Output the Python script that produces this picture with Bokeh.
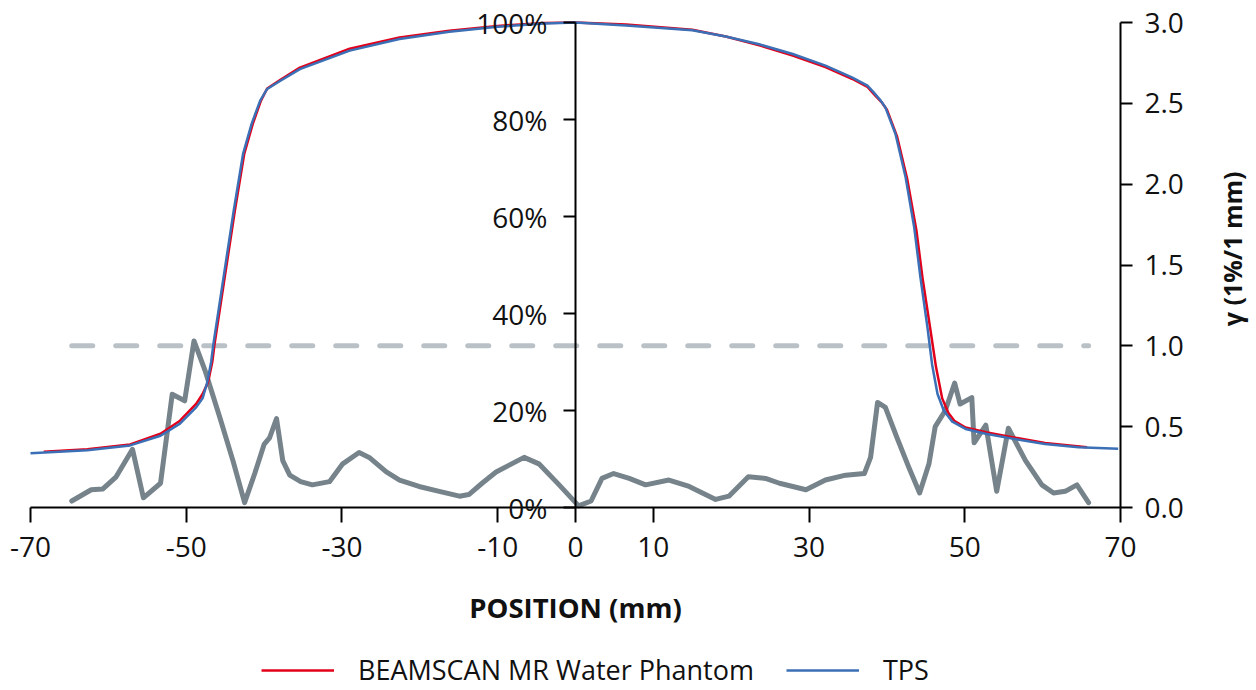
import numpy as np
from bokeh.plotting import figure
from bokeh.models import (Range1d, LinearAxis, FixedTicker, Legend, LegendItem, Label)
from bokeh.embed import file_html
from bokeh.resources import INLINE

# ---------------- data ----------------
tps_x = [-70, -62.7, -57.2, -53.3, -50.8, -48.7, -47.9, -47.3, -46.8, -46.5, -45.2, -43.9,
         -42.7, -41.6, -40.5, -39.6, -37.9, -35.4, -29.0, -22.6, -16.2, -10.0, -4.0, 0.0,
         6.5, 15.0, 19.3, 23.6, 27.9, 32.1, 35.5, 37.5, 38.3, 39.2, 39.8, 41.1, 42.4, 43.5,
         44.3, 45.2, 45.8, 46.5, 47.3, 48.4, 50.1, 52.7, 56.1, 60.3, 64.6, 69.7]
tps_y = [11.2, 11.8, 12.8, 14.8, 17.3, 20.7, 22.5, 25.8, 30.0, 33.8, 47.5, 61.2,
         72.9, 79.1, 83.9, 86.3, 88.0, 90.4, 94.2, 96.6, 98.1, 99.1, 99.8, 100.0,
         99.4, 98.4, 97.1, 95.5, 93.5, 91.1, 88.7, 87.0, 85.6, 83.9, 82.5, 77.0, 68.1, 57.8,
         47.5, 37.2, 29.5, 23.4, 20.0, 17.7, 16.2, 15.2, 14.2, 13.1, 12.4, 12.1]

beam_x = [-68.3, -62.7, -57.2, -53.3, -50.8, -48.7, -47.9, -47.2, -46.65, -46.35, -45.05, -43.75,
          -42.55, -41.45, -40.4, -39.6, -37.9, -35.4, -29.0, -22.6, -16.2, -10.0, -4.0, 0.0,
          6.5, 15.0, 19.3, 23.6, 27.9, 32.1, 35.5, 37.5, 38.3, 39.3, 40.0, 41.3, 42.6, 43.8,
          44.6, 45.6, 46.3, 47.1, 47.9, 48.7, 50.1, 52.7, 56.1, 60.3, 65.7]
beam_y = [11.5, 12.0, 13.0, 15.2, 17.9, 21.4, 23.4, 25.8, 30.0, 33.8, 47.5, 61.2,
          72.9, 79.1, 83.9, 86.4, 88.2, 90.7, 94.6, 96.9, 98.3, 99.3, 99.9, 100.0,
          99.6, 98.5, 97.1, 95.3, 93.2, 90.8, 88.4, 86.7, 85.3, 83.6, 82.0, 76.5, 67.8, 57.0,
          47.0, 36.5, 29.0, 22.5, 19.5, 17.8, 16.5, 15.5, 14.5, 13.3, 12.4]

gamma_x = [-64.7, -62.2, -60.7, -59.0, -56.9, -55.5, -53.3, -51.8, -50.2, -49.0, -47.6, -45.7,
           -44.0, -42.5, -41.2, -40.0, -39.3, -38.4, -37.6, -36.7, -35.3, -33.8, -31.6, -29.9,
           -27.8, -26.5, -24.3, -22.6, -20.1, -17.5, -14.9, -13.7, -12.0, -10.2, -6.6, -4.7,
           -2.1, 0.4, 2.0, 3.4, 4.9, 6.9, 9.0, 12.0, 14.6, 18.0, 19.7, 22.2, 24.4, 26.2,
           29.6, 32.1, 34.7, 37.1, 37.9, 38.8, 39.8, 41.3, 42.8, 44.2, 45.4, 46.2, 47.5,
           48.7, 49.4, 50.9, 51.2, 52.7, 54.1, 55.6, 57.8, 59.9, 61.4, 62.9, 64.4, 65.9]
gamma_v = [0.04, 0.11, 0.115, 0.19, 0.36, 0.06, 0.15, 0.70, 0.66, 1.03, 0.85, 0.56,
           0.29, 0.03, 0.21, 0.39, 0.43, 0.55, 0.29, 0.20, 0.16, 0.14, 0.16, 0.27,
           0.34, 0.31, 0.22, 0.17, 0.13, 0.10, 0.07, 0.08, 0.15, 0.22, 0.31, 0.27,
           0.14, 0.01, 0.04, 0.18, 0.21, 0.18, 0.14, 0.17, 0.13, 0.05, 0.07, 0.19, 0.18, 0.15,
           0.11, 0.17, 0.20, 0.21, 0.31, 0.65, 0.62, 0.43, 0.25, 0.09, 0.27, 0.50, 0.60,
           0.77, 0.64, 0.68, 0.40, 0.51, 0.10, 0.49, 0.29, 0.14, 0.09, 0.10, 0.14, 0.03]
gamma_threshold = 1.0

x_ticks = [-70, -50, -30, -10, 0, 10, 30, 50, 70]
pct_ticks = [0, 20, 40, 60, 80, 100]
pct_labels = ["0%", "20%", "40%", "60%", "80%", "100%"]
gamma_ticks = [0.0, 0.5, 1.0, 1.5, 2.0, 2.5, 3.0]

series_names = ["BEAMSCAN MR Water Phantom", "TPS"]
x_title = "POSITION (mm)"
gamma_title = "γ (1%/1 mm)"

# ---------------- layout / style ----------------
FONT = "Open Sans"
FS = "28px"
TXT = "#111111"
RED = "#e2001a"
BLUE = "#3b6fb6"
GRAY = "#76838b"
DASH = "#b9c1c7"

W, H = 1254, 690
# pixel box of the data area (0..100 %, -70..70 mm) inside the canvas
PX_L, PX_R, PX_T, PX_B = 30, 1120, 22, 507
sx = (PX_R - PX_L) / 140.0
sy = (PX_B - PX_T) / 100.0
x_lo, x_hi = -70 - PX_L / sx, 70 + (W - PX_R) / sx
y_lo, y_hi = -(H - PX_B) / sy, 100 + PX_T / sy

p = figure(width=W, height=H, x_range=Range1d(x_lo, x_hi), y_range=Range1d(y_lo, y_hi),
           output_backend="svg", toolbar_location=None,
           min_border_left=0, min_border_right=0, min_border_top=0, min_border_bottom=0)
p.extra_y_ranges = {"gamma": Range1d(y_lo * 0.03, y_hi * 0.03)}
p.outline_line_color = None
p.grid.visible = False


def style_axis(ax, tick_out, standoff):
    ax.major_label_text_font = FONT
    ax.major_label_text_font_size = FS
    ax.major_label_text_color = TXT
    ax.major_label_standoff = standoff
    ax.major_tick_out = tick_out
    ax.major_tick_in = 0
    ax.minor_tick_line_color = None
    ax.axis_line_width = 2
    ax.major_tick_line_width = 2
    ax.axis_line_color = "black"
    ax.major_tick_line_color = "black"
    ax.axis_label_text_font = FONT
    ax.axis_label_text_font_style = "bold"
    ax.axis_label_text_color = TXT


# x axis, pinned at 0 %
xa = p.xaxis[0]
xa.fixed_location = 0
xa.bounds = (-70, 70)
xa.ticker = FixedTicker(ticks=x_ticks)
xa.major_label_overrides = {t: str(t) for t in x_ticks}
xa.axis_label = x_title
xa.axis_label_standoff = 29
style_axis(xa, 15, 14)
xa.axis_label_text_font_size = "27.5px"

# percentage axis, pinned at x = 0
ya = p.yaxis[0]
ya.fixed_location = 0
ya.bounds = (0, 100)
ya.ticker = FixedTicker(ticks=pct_ticks)
ya.major_label_overrides = {t: l for t, l in zip(pct_ticks, pct_labels)}
style_axis(ya, 12, 16)

# right gamma axis, pinned at x = 70
ra = LinearAxis(y_range_name="gamma", ticker=FixedTicker(ticks=gamma_ticks), bounds=(0, 3),
                fixed_location=70)
ra.major_label_overrides = {t: f"{t:.1f}" for t in gamma_ticks}
style_axis(ra, 12, 12)
p.add_layout(ra, "right")
p.add_layout(Label(x=70 + 111 / sx, y=1.6, y_range_name="gamma", text=gamma_title,
                   angle=np.pi / 2, text_align="center", text_baseline="middle",
                   text_font=FONT, text_font_style="bold", text_font_size="25px",
                   text_color=TXT))

# threshold and gamma
p.line([gamma_x[0], gamma_x[-1]], [gamma_threshold, gamma_threshold], y_range_name="gamma",
       line_color=DASH, line_width=5, line_dash="21 23", line_cap="round")
p.line(gamma_x, gamma_v, y_range_name="gamma", line_color=GRAY, line_width=5,
       line_join="round", line_cap="round")

# profiles
r_red = p.line(beam_x, beam_y, line_color=RED, line_width=2.5, line_join="round")
r_blue = p.line(tps_x, tps_y, line_color=BLUE, line_width=2.5, line_join="round")

legend = Legend(items=[LegendItem(label=series_names[0], renderers=[r_red]),
                       LegendItem(label=series_names[1], renderers=[r_blue])],
                orientation="horizontal", location=(261, 2), glyph_width=73,
                glyph_height=20, label_standoff=24, spacing=32, padding=0, margin=0,
                border_line_color=None, background_fill_alpha=0,
                label_text_font=FONT, label_text_font_size="27px",
                label_text_color=TXT)
p.add_layout(legend, "center")

open("out.html", "w").write(file_html(p, INLINE))
